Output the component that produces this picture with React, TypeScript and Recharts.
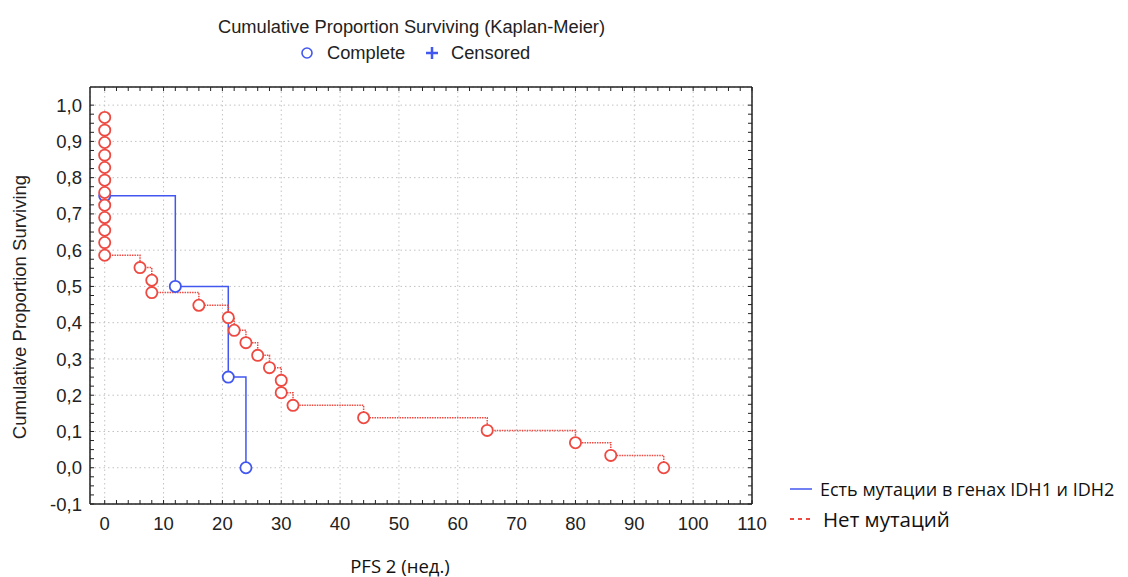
import { ComposedChart, Line, XAxis, YAxis, CartesianGrid } from "recharts"

// group with IDH1/IDH2 mutations (n=4)
const mutTimes = [0, 12, 21, 24]
const mutSurv = [0.75, 0.5, 0.25, 0]

// group without mutations (n=29)
const noMutTimes = [0, 0, 0, 0, 0, 0, 0, 0, 0, 0, 0, 0, 6, 8, 8, 16, 21, 22, 24, 26, 28, 30, 30, 32, 44, 65, 80, 86, 95]
const noMutSurv = [
  0.966, 0.931, 0.897, 0.862, 0.828, 0.793, 0.759, 0.724, 0.69, 0.655, 0.621, 0.586,
  0.552, 0.517, 0.483, 0.448, 0.414, 0.379, 0.345, 0.31, 0.276, 0.241, 0.207, 0.172,
  0.138, 0.103, 0.069, 0.034, 0,
]

const xTicks = [0, 10, 20, 30, 40, 50, 60, 70, 80, 90, 100, 110]
const yTicks = [-0.1, 0, 0.1, 0.2, 0.3, 0.4, 0.5, 0.6, 0.7, 0.8, 0.9, 1.0]
const xMinor = Array.from({ length: 56 }, (_, i) => i * 2)
const yMinor = Array.from({ length: 45 }, (_, i) => Math.round((-0.1 + i * 0.025) * 1000) / 1000)

const mutData = mutTimes.map((t, i) => ({ t, s: mutSurv[i] }))
const noMutData = noMutTimes.map((t, i) => ({ t, s: noMutSurv[i] }))

const BLUE = "#4257f0"
const RED = "#ee4a42"
const sans = "'Liberation Sans', Arial, sans-serif"
const soft = "'Open Sans', sans-serif"

const ring = (color: string) => (p: any) => {
  if (p.cx == null || p.cy == null) return <g key={p.index} />
  return <circle key={p.index} cx={p.cx} cy={p.cy} r={5.6} fill="#fff" stroke={color} strokeWidth={1.8} />
}

const noLabel = () => null

const fmt = (v: number) => v.toFixed(1).replace(".", ",")

export default function App() {
  return (
    <div style={{ position: "relative", width: 1112, height: 569 }}>
      <div style={{ position: "absolute", left: 0, width: 807, top: 8, textAlign: "center", fontFamily: sans, fontSize: 18.3, color: "#222", whiteSpace: "nowrap" }}>
        Cumulative Proportion Surviving (Kaplan-Meier)
      </div>
      <svg style={{ position: "absolute", left: 292, top: 38 }} width={14} height={14}>
        <circle cx={7} cy={7} r={5} fill="none" stroke={BLUE} strokeWidth={1.6} />
      </svg>
      <div style={{ position: "absolute", left: 319, top: 34, fontFamily: sans, fontSize: 18.3, color: "#222" }}>Complete</div>
      <svg style={{ position: "absolute", left: 417, top: 38 }} width={14} height={14}>
        <line x1={1} y1={7} x2={13} y2={7} stroke={BLUE} strokeWidth={2.5} />
        <line x1={7} y1={1} x2={7} y2={13} stroke={BLUE} strokeWidth={2.5} />
      </svg>
      <div style={{ position: "absolute", left: 443, top: 34, fontFamily: sans, fontSize: 18.3, color: "#222" }}>Censored</div>

      <div style={{ position: "absolute", left: 12, top: 299, width: 0, height: 0 }}>
        <div style={{ position: "absolute", transform: "translate(-50%, -50%) rotate(-90deg)", whiteSpace: "nowrap", fontFamily: sans, fontSize: 18.5, color: "#222" }}>
          Cumulative Proportion Surviving
        </div>
      </div>

      <ComposedChart width={1112} height={561} margin={{ top: 79, right: 368, bottom: 0, left: 22 }}>
        <CartesianGrid stroke="#c2c2c2" strokeDasharray="1.5 3" />
        <XAxis
          dataKey="t"
          type="number"
          domain={[-2.5, 110]}
          allowDataOverflow
          ticks={xTicks}
          interval={0}
          height={65}
          tickLine={false}
          tickSize={6}
          tickMargin={7}
          axisLine={{ stroke: "#222", strokeWidth: 1.5 }}
          tick={{ fill: "#222", fontSize: 18.5, fontFamily: sans }}
        />
        <YAxis
          type="number"
          domain={[-0.1, 1.05]}
          allowDataOverflow
          ticks={yTicks}
          interval={0}
          width={60}
          tickLine={false}
          tickSize={4}
          tickMargin={4}
          tickFormatter={fmt}
          axisLine={{ stroke: "#222", strokeWidth: 1.5 }}
          tick={{ fill: "#222", fontSize: 18.5, fontFamily: sans }}
        />
        <XAxis xAxisId="bm" dataKey="t" orientation="bottom" mirror type="number" domain={[-2.5, 110]} allowDataOverflow ticks={xMinor} interval={0} height={20} tick={noLabel} tickSize={4} axisLine={false} stroke="#222" />
        <XAxis xAxisId="tm" dataKey="t" orientation="top" mirror type="number" domain={[-2.5, 110]} allowDataOverflow ticks={xMinor} interval={0} height={20} tick={noLabel} tickSize={4} axisLine={{ stroke: "#222", strokeWidth: 1.5 }} stroke="#222" />
        <YAxis yAxisId="lm" orientation="left" mirror type="number" domain={[-0.1, 1.05]} allowDataOverflow ticks={yMinor} interval={0} width={20} tick={noLabel} tickSize={4} axisLine={false} stroke="#222" />
        <YAxis yAxisId="rm" orientation="right" mirror type="number" domain={[-0.1, 1.05]} allowDataOverflow ticks={yMinor} interval={0} width={20} tick={noLabel} tickSize={4} axisLine={{ stroke: "#222", strokeWidth: 1.5 }} stroke="#222" />

        {/* invisible series so the tick-only frame axes get a scale */}
        <Line data={mutData} dataKey="s" xAxisId="bm" yAxisId="lm" stroke="none" dot={false} activeDot={false} legendType="none" isAnimationActive={false} />
        <Line data={mutData} dataKey="s" xAxisId="tm" yAxisId="rm" stroke="none" dot={false} activeDot={false} legendType="none" isAnimationActive={false} />

        <Line data={mutData} dataKey="s" type="stepAfter" stroke={BLUE} strokeWidth={1.5} dot={ring(BLUE)} activeDot={false} isAnimationActive={false} />
        <Line data={noMutData} dataKey="s" type="stepAfter" stroke={RED} strokeWidth={1.5} strokeDasharray="1.5 1" dot={ring(RED)} activeDot={false} isAnimationActive={false} />
      </ComposedChart>

      <div style={{ position: "absolute", left: 292, width: 200, top: 545, textAlign: "center", fontFamily: soft, fontSize: 18.5, color: "#111", whiteSpace: "nowrap" }}>
        PFS 2 (нед.)
      </div>

      <div style={{ position: "absolute", left: 782, top: 468, fontFamily: soft, color: "#111", whiteSpace: "nowrap" }}>
        <div style={{ display: "flex", alignItems: "center", fontSize: 18, height: 26 }}>
          <svg width={22} height={10} style={{ marginRight: 8 }}><line x1={0} y1={5} x2={22} y2={5} stroke={BLUE} strokeWidth={1.5} /></svg>
          Есть мутации в генах IDH1 и IDH2
        </div>
        <div style={{ display: "flex", alignItems: "center", fontSize: 20.5, height: 34 }}>
          <svg width={22} height={10} style={{ marginRight: 11 }}><line x1={0} y1={5} x2={22} y2={5} stroke={RED} strokeWidth={1.8} strokeDasharray="4 4" /></svg>
          Нет мутаций
        </div>
      </div>
    </div>
  )
}
